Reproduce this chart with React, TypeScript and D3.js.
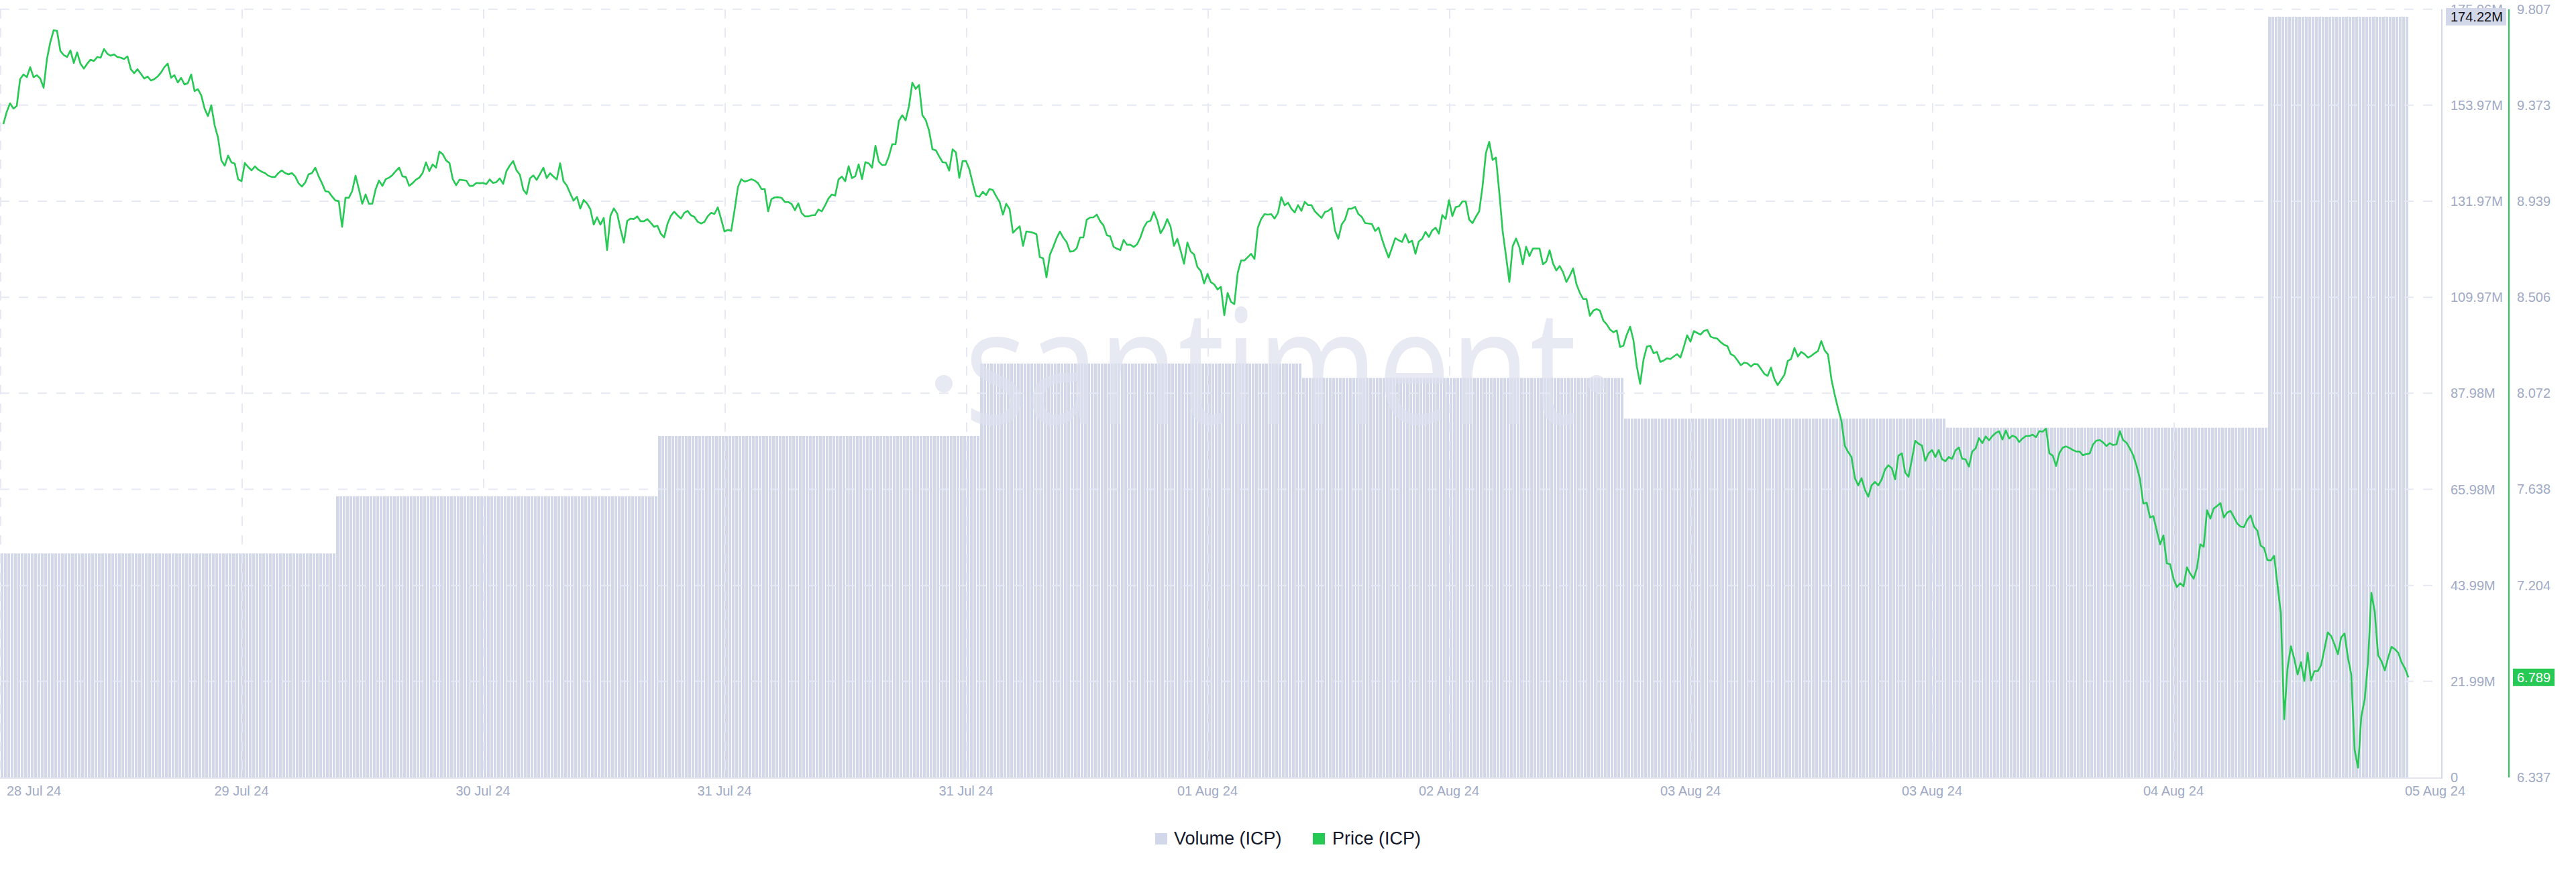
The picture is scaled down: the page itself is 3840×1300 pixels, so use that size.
import React from "react";
import * as d3 from "d3";

// ---------- DATA ----------
const volumeDays = ["2024-07-28", "2024-07-29", "2024-07-30", "2024-07-31", "2024-08-01", "2024-08-02", "2024-08-03", "2024-08-04"];
const volumeValues = [51.3e6, 64.4e6, 78.2e6, 94.8e6, 91.5e6, 82.2e6, 80.1e6, 174.22e6];

const domainStart = "2024-07-27T23:00:00Z";
const domainEnd = "2024-08-04T13:00:00Z";
const priceStart = "2024-07-27T23:15:00Z";
const priceStepMinutes = 15;
const priceValues = [
  9.288,9.343,9.382,9.358,9.370,9.491,9.512,9.500,9.545,9.500,
  9.509,9.494,9.452,9.582,9.658,9.712,9.709,9.618,9.600,9.591,
  9.621,9.564,9.612,9.561,9.539,9.561,9.579,9.573,9.591,9.588,
  9.627,9.606,9.597,9.603,9.591,9.588,9.582,9.594,9.536,9.518,
  9.536,9.515,9.494,9.503,9.485,9.491,9.503,9.521,9.545,9.561,
  9.497,9.509,9.476,9.497,9.467,9.473,9.512,9.437,9.446,9.418,
  9.358,9.324,9.373,9.282,9.227,9.124,9.100,9.146,9.115,9.109,
  9.039,9.030,9.112,9.094,9.079,9.097,9.082,9.073,9.067,9.055,
  9.049,9.049,9.067,9.079,9.067,9.061,9.067,9.052,9.021,9.006,
  9.024,9.061,9.067,9.091,9.052,9.021,8.985,8.982,8.961,8.943,
  8.940,8.824,8.955,8.955,8.985,9.055,8.994,8.928,8.970,8.928,
  8.928,8.994,9.033,9.009,9.039,9.046,9.058,9.076,9.091,9.052,
  9.049,9.009,9.021,9.037,9.046,9.067,9.115,9.076,9.106,9.091,
  9.164,9.152,9.124,9.112,9.039,9.012,9.037,9.035,9.033,9.009,
  9.009,9.022,9.021,9.022,9.017,9.038,9.022,9.026,9.043,9.018,
  9.076,9.101,9.121,9.079,9.059,8.992,8.972,9.043,9.056,9.036,
  9.063,9.091,9.044,9.066,9.051,9.038,9.111,9.030,9.010,8.975,
  8.942,8.960,8.906,8.945,8.930,8.904,8.834,8.867,8.834,8.864,
  8.719,8.874,8.907,8.884,8.813,8.753,8.851,8.861,8.859,8.871,
  8.849,8.849,8.859,8.842,8.824,8.829,8.793,8.776,8.837,8.874,
  8.892,8.876,8.861,8.887,8.896,8.876,8.869,8.847,8.839,8.846,
  8.872,8.887,8.882,8.912,8.859,8.803,8.810,8.806,8.899,9.003,
  9.039,9.028,9.033,9.039,9.033,9.021,8.995,8.995,8.894,8.949,
  8.957,8.958,8.955,8.936,8.936,8.927,8.899,8.930,8.886,8.871,
  8.871,8.876,8.877,8.902,8.894,8.921,8.952,8.970,8.965,9.038,
  9.051,9.030,9.098,9.044,9.053,9.106,9.040,9.116,9.111,9.091,
  9.190,9.119,9.103,9.104,9.142,9.197,9.197,9.303,9.328,9.305,
  9.369,9.475,9.447,9.465,9.328,9.306,9.258,9.174,9.170,9.142,
  9.116,9.114,9.078,9.174,9.160,9.045,9.121,9.121,9.084,9.021,
  8.963,8.960,8.982,8.967,8.995,8.990,8.962,8.937,8.879,8.928,
  8.904,8.797,8.813,8.826,8.738,8.803,8.801,8.797,8.791,8.687,
  8.682,8.596,8.697,8.733,8.773,8.803,8.775,8.755,8.712,8.714,
  8.727,8.776,8.776,8.856,8.866,8.867,8.879,8.849,8.830,8.786,
  8.781,8.734,8.725,8.719,8.765,8.743,8.743,8.733,8.745,8.776,
  8.820,8.846,8.851,8.891,8.854,8.795,8.820,8.859,8.824,8.738,
  8.770,8.716,8.657,8.753,8.712,8.699,8.642,8.625,8.568,8.611,
  8.574,8.564,8.541,8.553,8.425,8.525,8.485,8.475,8.616,8.672,
  8.672,8.687,8.702,8.679,8.820,8.859,8.881,8.879,8.881,8.861,
  8.886,8.958,8.921,8.933,8.906,8.889,8.922,8.896,8.937,8.922,
  8.922,8.894,8.879,8.864,8.891,8.896,8.909,8.808,8.770,8.834,
  8.856,8.906,8.906,8.914,8.881,8.869,8.841,8.839,8.837,8.805,
  8.821,8.770,8.725,8.685,8.729,8.773,8.763,8.756,8.791,8.753,
  8.761,8.702,8.758,8.770,8.801,8.778,8.808,8.820,8.793,8.877,
  8.860,8.944,8.872,8.913,8.917,8.939,8.939,8.857,8.841,8.869,
  8.894,9.006,9.157,9.208,9.126,9.137,8.978,8.804,8.692,8.575,
  8.737,8.771,8.731,8.655,8.734,8.692,8.726,8.726,8.726,8.655,
  8.667,8.718,8.659,8.627,8.647,8.619,8.575,8.603,8.636,8.565,
  8.526,8.498,8.498,8.422,8.445,8.453,8.445,8.401,8.384,8.360,
  8.348,8.356,8.281,8.287,8.337,8.373,8.311,8.193,8.115,8.225,
  8.283,8.287,8.253,8.259,8.214,8.220,8.230,8.227,8.238,8.249,
  8.233,8.281,8.334,8.305,8.353,8.345,8.337,8.354,8.358,8.328,
  8.322,8.319,8.303,8.291,8.285,8.249,8.241,8.221,8.199,8.210,
  8.207,8.193,8.205,8.203,8.182,8.160,8.151,8.188,8.137,8.109,
  8.132,8.156,8.218,8.227,8.277,8.238,8.259,8.249,8.233,8.241,
  8.253,8.263,8.308,8.266,8.247,8.137,8.065,8.003,7.947,7.835,
  7.807,7.784,7.689,7.656,7.689,7.636,7.605,7.656,7.672,7.656,
  7.683,7.728,7.747,7.734,7.683,7.790,7.801,7.714,7.695,7.773,
  7.857,7.844,7.836,7.767,7.801,7.816,7.784,7.816,7.774,7.765,
  7.784,7.776,7.814,7.827,7.776,7.774,7.741,7.809,7.823,7.870,
  7.847,7.877,7.860,7.879,7.893,7.901,7.863,7.904,7.868,7.881,
  7.874,7.852,7.868,7.879,7.879,7.885,7.874,7.901,7.899,7.912,
  7.801,7.790,7.744,7.803,7.827,7.832,7.825,7.816,7.809,7.809,
  7.792,7.798,7.800,7.841,7.858,7.861,7.850,7.834,7.847,7.838,
  7.841,7.901,7.860,7.849,7.822,7.792,7.744,7.684,7.574,7.578,
  7.511,7.517,7.452,7.390,7.430,7.304,7.300,7.235,7.197,7.214,
  7.200,7.286,7.257,7.235,7.284,7.390,7.379,7.544,7.506,7.552,
  7.563,7.576,7.511,7.533,7.541,7.513,7.484,7.470,7.468,7.500,
  7.520,7.470,7.452,7.384,7.373,7.319,7.317,7.338,7.208,7.078,
  6.600,6.830,6.929,6.873,6.802,6.857,6.773,6.900,6.775,6.817,
  6.817,6.844,6.916,6.992,6.976,6.938,6.894,6.970,6.987,6.878,
  6.802,6.462,6.381,6.613,6.689,6.862,7.171,7.084,6.889,6.862,
  6.821,6.878,6.927,6.916,6.900,6.857,6.830,6.789,
];

const xTickDates = [
  "2024-07-27T23:00:00Z", "2024-07-28T17:00:00Z", "2024-07-29T11:00:00Z", "2024-07-30T05:00:00Z",
  "2024-07-30T23:00:00Z", "2024-07-31T17:00:00Z", "2024-08-01T11:00:00Z", "2024-08-02T05:00:00Z",
  "2024-08-02T23:00:00Z", "2024-08-03T17:00:00Z", "2024-08-04T12:30:00Z",
];
const xTickLabels = ["28 Jul 24", "29 Jul 24", "30 Jul 24", "31 Jul 24", "31 Jul 24", "01 Aug 24", "02 Aug 24", "03 Aug 24", "03 Aug 24", "04 Aug 24", "05 Aug 24"];

const volumeTicks = [0, 21.995e6, 43.99e6, 65.985e6, 87.98e6, 109.975e6, 131.97e6, 153.965e6, 175.96e6];
const volumeTickLabels = ["0", "21.99M", "43.99M", "65.98M", "87.98M", "109.97M", "131.97M", "153.97M", "175.96M"];
const priceTicks = [6.337, 6.7708, 7.2045, 7.6383, 8.072, 8.5058, 8.9395, 9.3733, 9.807];
const priceTickLabels = ["6.337", "6.771", "7.204", "7.638", "8.072", "8.506", "8.939", "9.373", "9.807"];

const seriesNames = ["Volume (ICP)", "Price (ICP)"];

// ---------- STYLE ----------
const GREEN = "#26c953";
const VOL = "#d3d7ea";
const AXIS_TEXT = "#9faac4";
const GRID = "#e6e9f3";
const FONT = "'Liberation Sans', Arial, Helvetica, sans-serif";

export default function App() {
  const plotLeft = 0, plotRight = 3640, plotTop = 13.7, plotBottom = 1159;
  const volAxisX = 3640, priceAxisX = 3740;

  const x = d3.scaleUtc().domain([new Date(domainStart), new Date(domainEnd)]).range([plotLeft, plotRight]);
  const yVol = d3.scaleLinear().domain([volumeTicks[0], volumeTicks[volumeTicks.length - 1]]).range([plotBottom, plotTop]);
  const yPrice = d3.scaleLinear().domain([priceTicks[0], priceTicks[priceTicks.length - 1]]).range([plotBottom, plotTop]);

  const t0 = new Date(priceStart);
  const price = priceValues.map((v, i) => ({ t: d3.utcMinute.offset(t0, i * priceStepMinutes), v }));
  const lastT = price[price.length - 1].t;

  const dayIndex = new Map(volumeDays.map((d, i) => [d, i]));
  const barStarts = d3.utcMinute.every(priceStepMinutes)!.range(new Date(domainStart), lastT);
  const bars = barStarts.map((s) => {
    const key = d3.utcFormat("%Y-%m-%d")(d3.utcDay.floor(s));
    const idx = dayIndex.has(key) ? dayIndex.get(key)! : 0;
    return { s, v: volumeValues[idx] };
  });

  const line = d3.line<{ t: Date; v: number }>().x((d) => x(d.t)).y((d) => yPrice(d.v));
  const pitch = x(d3.utcMinute.offset(t0, priceStepMinutes)) - x(t0);

  const lastVol = volumeValues[volumeValues.length - 1];
  const lastPrice = priceValues[priceValues.length - 1];

  return (
    <svg width={3840} height={1300} style={{ position: "absolute", left: 0, top: 0, background: "#fff" }} fontFamily={FONT}>
      <rect width={3840} height={1300} fill="#fff" />
      {/* volume bars */}
      <g>
        {bars.map((b, i) => (
          <rect key={i} x={x(b.s) + 1} width={pitch - 1} y={yVol(b.v)} height={plotBottom - yVol(b.v)} fill={VOL} />
        ))}
      </g>
      {/* watermark */}
      <g fill="#dfe2ee" opacity={0.72}>
        <circle cx={1407} cy={572} r={13} />
        <text x={1438} y={632} fontSize={238} fontFamily="'Open Sans', 'Noto Sans', sans-serif" textLength={912} lengthAdjust="spacingAndGlyphs">santiment</text>
        <circle cx={2380} cy={572} r={13} />
      </g>
      {/* grid */}
      <g stroke={GRID} strokeWidth={2} strokeDasharray="14 14">
        {volumeTicks.slice(1).map((v, i) => (
          <line key={"h" + i} x1={plotLeft} x2={plotRight - 12} y1={yVol(v)} y2={yVol(v)} />
        ))}
        {xTickDates.slice(0, 10).map((d, i) => (
          <line key={"v" + i} x1={x(new Date(d)) + 1} x2={x(new Date(d)) + 1} y1={plotTop} y2={plotBottom} />
        ))}
      </g>
      {/* bottom axis line */}
      <line x1={plotLeft} x2={volAxisX} y1={plotBottom + 1} y2={plotBottom + 1} stroke="#e3e6f0" strokeWidth={2} />
      {/* price line */}
      <path d={line(price)!} fill="none" stroke={GREEN} strokeWidth={2.6} strokeLinejoin="round" />
      {/* axes */}
      <line x1={volAxisX} x2={volAxisX} y1={plotTop} y2={plotBottom + 2} stroke="#d3d7ea" strokeWidth={2} />
      <line x1={priceAxisX} x2={priceAxisX} y1={plotTop} y2={plotBottom} stroke={GREEN} strokeWidth={2} />
      <g fontSize={20} fill={AXIS_TEXT} dominantBaseline="central">
        {volumeTicks.map((v, i) => (
          <text key={"vl" + i} x={volAxisX + 13} y={yVol(v)}>{volumeTickLabels[i]}</text>
        ))}
        {priceTicks.map((v, i) => (
          <text key={"pl" + i} x={priceAxisX + 12} y={yPrice(v)}>{priceTickLabels[i]}</text>
        ))}
      </g>
      <g fontSize={20} fill={AXIS_TEXT}>
        {xTickDates.map((d, i) => (
          <text key={"xl" + i} x={i === 0 ? x(new Date(d)) + 10 : x(new Date(d))} y={1186} textAnchor={i === 0 ? "start" : "middle"}>{xTickLabels[i]}</text>
        ))}
      </g>
      {/* last value badges */}
      <rect x={volAxisX + 6} y={yVol(lastVol) - 13} width={90} height={26} fill="#d3d7ea" />
      <text x={volAxisX + 13} y={yVol(lastVol)} fontSize={20} fill="#111" dominantBaseline="central">{d3.format(".2f")(lastVol / 1e6) + "M"}</text>
      <rect x={priceAxisX + 6} y={yPrice(lastPrice) - 13} width={62} height={26} fill={GREEN} />
      <text x={priceAxisX + 12} y={yPrice(lastPrice)} fontSize={20} fill="#fff" dominantBaseline="central">{d3.format(".3f")(lastPrice)}</text>
      {/* legend */}
      <g fontSize={27} fill="#15172b">
        <rect x={1722} y={1242} width={18} height={17} fill={VOL} />
        <text x={1750} y={1259}>{seriesNames[0]}</text>
        <rect x={1957} y={1242} width={18} height={17} fill={GREEN} />
        <text x={1986} y={1259}>{seriesNames[1]}</text>
      </g>
    </svg>
  );
}
